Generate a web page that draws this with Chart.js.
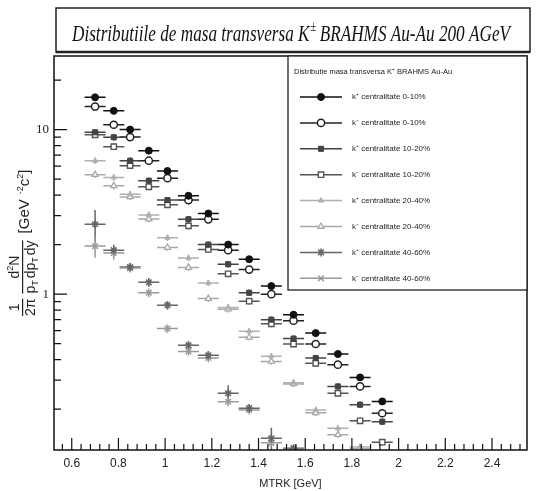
<!DOCTYPE html>
<html><head><meta charset="utf-8">
<script src="https://cdn.jsdelivr.net/npm/chart.js@4/dist/chart.umd.min.js"></script>
<style>html,body{margin:0;padding:0;background:#fff}</style>
</head><body>
<canvas id="c" width="536" height="491"></canvas>
<script>
// ---------------- data ----------------
const xGrid = [0.70, 0.78, 0.85, 0.93, 1.01, 1.10, 1.185, 1.27, 1.36, 1.455, 1.55, 1.645, 1.74, 1.835, 1.93];
const kPlus0010  = [15.7, 13.0, 10.0, 7.45, 5.6, 3.96, 3.09, 2.0, 1.63, 1.12, 0.75, 0.58, 0.433, 0.312, 0.223];
const kMinus0010 = [13.8, 10.7, 9.0, 6.47, 5.07, 3.73, 2.85, 1.85, 1.41, 1.0, 0.69, 0.498, 0.373, 0.275, 0.189];
const kPlus1020  = [9.63, 8.98, 6.47, 4.89, 3.73, 2.85, 2.0, 1.52, 1.02, 0.70, 0.537, 0.409, 0.275, 0.213, 0.168];
const kMinus1020 = [9.3, 7.87, 6.04, 4.49, 3.49, 2.6, 1.87, 1.33, 0.906, 0.66, 0.498, 0.38, 0.25, 0.17, 0.126];
const kPlus2040  = [6.47, 5.12, 4.05, 3.03, 2.2, 1.66, 1.17, 0.83, 0.595, 0.419, 0.29, 0.198, 0.153, 0.118];
const kMinus2040 = [5.32, 4.55, 3.9, 2.86, 1.92, 1.45, 0.94, 0.81, 0.547, 0.39, 0.285, 0.19, 0.14, 0.115];
const kPlus4060  = [2.66, 1.85, 1.46, 1.18, 0.857, 0.489, 0.425, 0.25, 0.203, 0.133, 0.116];
const kMinus4060 = [1.96, 1.78, 1.44, 1.02, 0.618, 0.449, 0.41, 0.222, 0.198, 0.125, 0.114];
const relErrPlus4060  = [0.22, 0.08, 0.06, 0.06, 0.06, 0.06, 0.06, 0.12, 0.06, 0.16, 0.05];
const relErrMinus4060 = [0.15, 0.09, 0.06, 0.06, 0.06, 0.06, 0.06, 0.06, 0.06, 0.06, 0.05];
const relErrDefault = 0.045;
const xHalfWidth = 0.045;

const seriesLabels = [
  'k\u207A centralitate 0-10%', 'k\u207B centralitate 0-10%',
  'k\u207A centralitate 10-20%', 'k\u207B centralitate 10-20%',
  'k\u207A centralitate 20-40%', 'k\u207B centralitate 20-40%',
  'k\u207A centralitate 40-60%', 'k\u207B centralitate 40-60%'
];
const legendHeader = 'Distributie masa transversa K\u207A BRAHMS Au-Au';
const titleMain = 'Distributiile de masa transversa K';
const titleSup = '\u00B1';
const titleRest = ' BRAHMS Au-Au 200 AGeV';
const xAxisTitle = 'MTRK [GeV]';
const xTickValues = [0.6, 0.8, 1, 1.2, 1.4, 1.6, 1.8, 2, 2.2, 2.4];
const yTickValues = [1, 10];

// ---------------- build ----------------
function pts(arr) {
  const out = [];
  arr.forEach((v, i) => { if (v != null) out.push({x: xGrid[i], y: v}); });
  return out;
}
const seriesValues = [kPlus0010, kMinus0010, kPlus1020, kMinus1020, kPlus2040, kMinus2040, kPlus4060, kMinus4060];
const styles = [
  {ps: 'circle', r: 3.5, bg: '#111', bc: '#111', bw: 1},
  {ps: 'circle', r: 3.6, bg: '#fff', bc: '#222', bw: 1.5},
  {ps: 'rect', r: 3.6, bg: '#444', bc: '#444', bw: 1},
  {ps: 'rect', r: 3.8, bg: '#fff', bc: '#555', bw: 1.4},
  {ps: 'triangle', r: 3, bg: '#b0b0b0', bc: '#b0b0b0', bw: 1},
  {ps: 'triangle', r: 3.5, bg: '#fff', bc: '#a8a8a8', bw: 1.3},
  {ps: 'star', r: 4, bg: '#666', bc: '#666', bw: 1.5},
  {ps: 'crossRot', r: 4, bg: '#999', bc: '#999', bw: 1.5}
];
const datasets = seriesValues.map((arr, k) => ({
  label: seriesLabels[k],
  data: pts(arr),
  relErr: k === 6 ? relErrPlus4060 : (k === 7 ? relErrMinus4060 : null),
  pointStyle: styles[k].ps,
  pointRadius: styles[k].r,
  backgroundColor: styles[k].bg,
  borderColor: styles[k].bc,
  pointBorderWidth: styles[k].bw,
  showLine: false
}));

const errorBars = {
  id: 'errorBars',
  beforeDatasetsDraw(chart) {
    const {ctx, chartArea: a, scales: {x, y}} = chart;
    ctx.save();
    ctx.beginPath(); ctx.rect(a.left, a.top, a.right - a.left, a.bottom - a.top); ctx.clip();
    chart.data.datasets.forEach(ds => {
      ctx.strokeStyle = ds.borderColor; ctx.lineWidth = 1.5;
      ds.data.forEach((p, i) => {
        const e = ds.relErr ? ds.relErr[i] : relErrDefault;
        const px = x.getPixelForValue(p.x), py = y.getPixelForValue(p.y);
        ctx.beginPath();
        ctx.moveTo(x.getPixelForValue(p.x - xHalfWidth), py);
        ctx.lineTo(x.getPixelForValue(p.x + xHalfWidth), py);
        ctx.moveTo(px, y.getPixelForValue(p.y * (1 + e)));
        ctx.lineTo(px, y.getPixelForValue(p.y * (1 - e)));
        ctx.stroke();
      });
    });
    ctx.restore();
  }
};

const frameTicks = {
  id: 'frameTicks',
  afterDraw(chart) {
    const {ctx, chartArea: a, scales: {x, y}} = chart;
    ctx.save();
    ctx.strokeStyle = '#111'; ctx.lineWidth = 1.5;
    ctx.strokeRect(a.left, a.top, a.right - a.left, a.bottom - a.top);
    ctx.lineWidth = 1.2;
    ctx.beginPath();
    for (let d = -1; d <= 1; d++) {
      for (let m = 1; m <= 9; m++) {
        const v = m * Math.pow(10, d);
        if (v < y.min || v > y.max) continue;
        const py = y.getPixelForValue(v);
        ctx.moveTo(a.left, py); ctx.lineTo(a.left + (m === 1 ? 13 : 7), py);
      }
    }
    for (let t = 0; t <= 60; t++) {
      const v = 0.52 + t * 0.04;
      if (v < x.min || v > x.max) continue;
      const px = x.getPixelForValue(v);
      const major = Math.abs((v - 0.6) / 0.2 - Math.round((v - 0.6) / 0.2)) < 0.01;
      ctx.moveTo(px, a.bottom); ctx.lineTo(px, a.bottom - (major ? 12 : 6));
    }
    ctx.stroke();
    ctx.restore();
  }
};

const titleBox = {
  id: 'titleBox',
  afterDraw(chart) {
    const ctx = chart.ctx;
    ctx.save();
    ctx.strokeStyle = '#222'; ctx.lineWidth = 1.5;
    ctx.strokeRect(56, 8, 474, 44);
    ctx.lineWidth = 2.5;
    ctx.beginPath(); ctx.moveTo(56, 52); ctx.lineTo(530, 52); ctx.stroke();
    ctx.fillStyle = '#111';
    const big = 'italic 24px "Liberation Serif", serif';
    const small = 'italic 15px "Liberation Serif", serif';
    ctx.font = big;
    const w1 = ctx.measureText(titleMain).width, w3 = ctx.measureText(titleRest).width;
    ctx.font = small; const w2 = ctx.measureText(titleSup).width;
    const sx = 438 / (w1 + w2 + w3);
    ctx.translate(72, 41); ctx.scale(sx, 1);
    ctx.textBaseline = 'alphabetic'; ctx.textAlign = 'left';
    ctx.font = big; ctx.fillText(titleMain, 0, 0);
    ctx.font = small; ctx.fillText(titleSup, w1 + 1, -10);
    ctx.font = big; ctx.fillText(titleRest, w1 + w2, 0);
    ctx.restore();
  }
};

const legendBox = {
  id: 'legendBox',
  afterDraw(chart) {
    const {ctx, chartArea: a} = chart;
    ctx.save();
    ctx.fillStyle = '#fff';
    ctx.fillRect(288, a.top, a.right - 288, 234);
    ctx.strokeStyle = '#222'; ctx.lineWidth = 1.3;
    ctx.strokeRect(288, a.top, a.right - 288, 234);
    ctx.fillStyle = '#222';
    ctx.font = '7.5px "Liberation Sans Narrow", "Liberation Sans", sans-serif';
    ctx.textBaseline = 'middle';
    ctx.fillText(legendHeader, 294, 72);
    chart.data.datasets.forEach((ds, k) => {
      const yy = 97 + k * 25.9;
      ctx.strokeStyle = ds.borderColor; ctx.lineWidth = 1.5;
      ctx.beginPath(); ctx.moveTo(300, yy); ctx.lineTo(342, yy); ctx.stroke();
      ctx.fillStyle = ds.backgroundColor; ctx.strokeStyle = ds.borderColor; ctx.lineWidth = ds.pointBorderWidth;
      Chart.helpers.drawPoint(ctx, {pointStyle: ds.pointStyle, radius: ds.pointRadius, rotation: 0, borderWidth: ds.pointBorderWidth}, 321, yy);
      ctx.fillStyle = '#222';
      ctx.font = '8px "Liberation Sans Narrow", "Liberation Sans", sans-serif';
      ctx.fillText(ds.label, 352, yy);
    });
    ctx.restore();
  }
};

const yTitle = {
  id: 'yTitle',
  afterDraw(chart) {
    const ctx = chart.ctx;
    ctx.save();
    ctx.translate(23, 316);
    ctx.rotate(-Math.PI / 2);
    ctx.fillStyle = '#222';
    const fam = '"Liberation Sans", sans-serif';
    const f = '14px ' + fam, fs = '9px ' + fam, fb = '15px ' + fam;
    ctx.textBaseline = 'alphabetic';
    function fontOf(r) { return r.s ? fs : (r.b ? fb : f); }
    function runW(run) { let w = 0; run.forEach(r => { ctx.font = fontOf(r); w += ctx.measureText(r.t).width + (r.g || 0); }); return w; }
    function runDraw(run, x0, yb) {
      let x = x0;
      run.forEach(r => {
        ctx.font = fontOf(r);
        ctx.fillText(r.t, x, yb + (r.s === 'sub' ? 3 : r.s === 'sup' ? -6 : 0));
        x += ctx.measureText(r.t).width + (r.g || 0);
      });
      return x;
    }
    function frac(num, den, x) {
      const wn = runW(num), wd = runW(den), w = Math.max(wn, wd);
      runDraw(num, x + (w - wn) / 2, -4);
      runDraw(den, x + (w - wd) / 2, 12);
      ctx.fillRect(x, -1, w, 1.2);
      return x + w + 5;
    }
    let x = frac([{t: '1'}], [{t: '2\u03C0'}], 0);
    x = frac([{t: 'd'}, {t: '2', s: 'sup'}, {t: 'N'}],
             [{t: 'p'}, {t: 'T', s: 'sub', g: 2}, {t: 'dp'}, {t: 'T', s: 'sub', g: 2}, {t: 'dy'}], x);
    runDraw([{t: '[GeV', b: true, g: 5}, {t: '-2', s: 'sup'}, {t: 'c', b: true}, {t: '2', s: 'sup'}, {t: ']', b: true}], x + 2, 6);
    ctx.restore();
  }
};

new Chart(document.getElementById('c'), {
  type: 'scatter',
  data: {datasets},
  options: {
    responsive: false, animation: false, devicePixelRatio: 1,
    layout: {padding: {top: 56, right: 9, left: 0, bottom: 0}},
    plugins: {legend: {display: false}, tooltip: {enabled: false}, title: {display: false}},
    scales: {
      x: {
        type: 'linear', min: 0.524, max: 2.55,
        grid: {display: false, drawTicks: false}, border: {display: false},
        afterBuildTicks: s => { s.ticks = xTickValues.map(v => ({value: v})); },
        afterFit: s => { s.height = 41; },
        ticks: {color: '#222', padding: 6, font: {size: 12, family: '"Liberation Sans Narrow", "Liberation Sans", sans-serif'},
          callback: v => String(Math.round(v * 10) / 10), maxRotation: 0, autoSkip: false},
        title: {display: true, text: xAxisTitle, color: '#222', padding: {top: 6, bottom: 0}, font: {size: 11, family: '"Liberation Sans Narrow", "Liberation Sans", sans-serif'}}
      },
      y: {
        type: 'logarithmic', min: 0.113, max: 28,
        grid: {display: false, drawTicks: false}, border: {display: false},
        afterBuildTicks: s => { s.ticks = yTickValues.map(v => ({value: v})); },
        afterFit: s => { s.width = 54; },
        ticks: {color: '#222', padding: 5, font: {size: 13, family: '"Liberation Serif", serif'}, callback: v => String(v)}
      }
    }
  },
  plugins: [errorBars, frameTicks, titleBox, legendBox, yTitle]
});
</script>
</body></html>
